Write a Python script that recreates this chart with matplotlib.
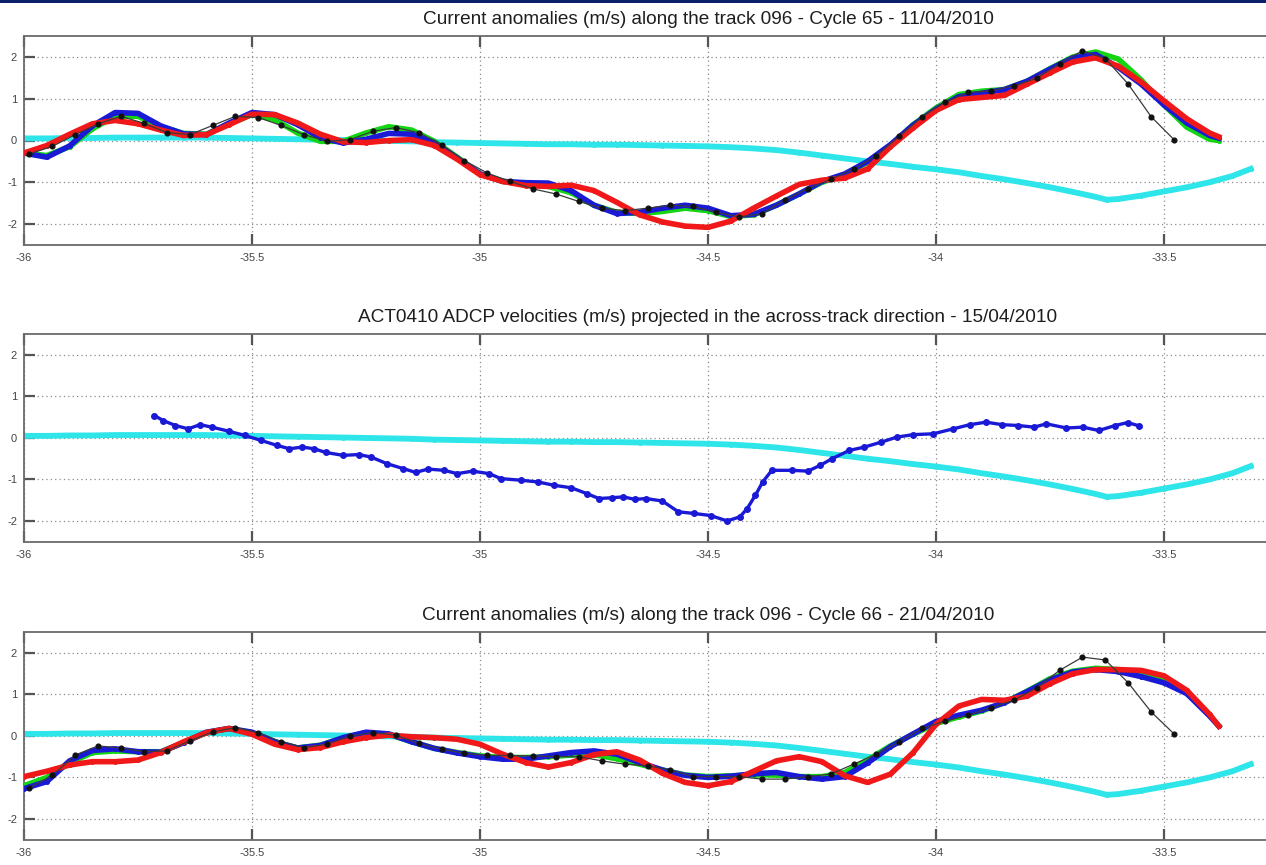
import numpy as np
import matplotlib
matplotlib.use("Agg")
import matplotlib.pyplot as plt
from matplotlib.patches import Rectangle

plt.rcParams["font.family"] = ["Liberation Sans", "DejaVu Sans"]

# ---------------------------------------------------------------- data
# Longitude grid of the gridded altimetry products (deg E)
grid_lon = list(np.round(np.arange(-36.0, -33.39, 0.05), 2)) + [-33.38]

# Cycle 65 - 11/04/2010
c65_blue = [-0.30, -0.40, -0.13, 0.35, 0.67, 0.65, 0.35, 0.16, 0.14, 0.42,
            0.67, 0.62, 0.38, 0.07, -0.06, 0.03, 0.17, 0.15, -0.05, -0.42,
            -0.80, -0.98, -1.01, -1.02, -1.20, -1.55, -1.75, -1.72, -1.62, -1.55,
            -1.62, -1.80, -1.77, -1.55, -1.28, -0.98, -0.80, -0.50, -0.10, 0.37,
            0.75, 1.05, 1.13, 1.22, 1.42, 1.71, 1.98, 2.06, 1.75, 1.35,
            0.85, 0.42, 0.12, 0.06]
c65_red = [-0.30, -0.12, 0.15, 0.40, 0.48, 0.40, 0.25, 0.12, 0.14, 0.38,
           0.63, 0.62, 0.42, 0.15, -0.03, -0.05, 0.00, 0.02, -0.12, -0.45,
           -0.82, -0.98, -1.08, -1.10, -1.07, -1.20, -1.48, -1.78, -1.95, -2.05,
           -2.08, -1.93, -1.62, -1.33, -1.05, -0.95, -0.90, -0.68, -0.15, 0.30,
           0.72, 0.98, 1.03, 1.08, 1.35, 1.62, 1.88, 1.98, 1.78, 1.40,
           0.95, 0.52, 0.18, 0.09]
c65_green = [-0.30, -0.36, -0.15, 0.28, 0.58, 0.58, 0.33, 0.17, 0.15, 0.40,
             0.62, 0.50, 0.18, -0.02, -0.02, 0.18, 0.33, 0.25, -0.02, -0.40,
             -0.80, -0.98, -1.05, -1.10, -1.25, -1.55, -1.72, -1.75, -1.70, -1.62,
             -1.68, -1.82, -1.78, -1.55, -1.28, -1.00, -0.82, -0.52, -0.12, 0.38,
             0.78, 1.10, 1.18, 1.22, 1.42, 1.72, 2.00, 2.12, 1.95, 1.45,
             0.85, 0.32, 0.03, 0.00]

# Along-track points (1 Hz) for both cycles
track_lon = np.linspace(-35.988, -33.478, 51)
c65_track = [-0.32, -0.14, 0.14, 0.40, 0.58, 0.41, 0.19, 0.14, 0.36, 0.58,
             0.55, 0.36, 0.14, -0.02, 0.02, 0.22, 0.31, 0.19, -0.10, -0.48,
             -0.78, -0.98, -1.16, -1.28, -1.46, -1.62, -1.68, -1.62, -1.55, -1.58,
             -1.72, -1.83, -1.75, -1.43, -1.15, -0.93, -0.69, -0.36, 0.10, 0.57,
             0.92, 1.15, 1.19, 1.31, 1.49, 1.84, 2.15, 1.96, 1.35, 0.57, 0.02]

# Cycle 66 - 21/04/2010
c66_blue = [-1.27, -1.10, -0.60, -0.35, -0.31, -0.38, -0.39, -0.16, 0.09, 0.18,
            0.09, -0.14, -0.29, -0.23, -0.04, 0.09, 0.05, -0.14, -0.30, -0.41,
            -0.50, -0.56, -0.56, -0.48, -0.40, -0.36, -0.44, -0.64, -0.82, -0.95,
            -1.00, -0.97, -0.91, -0.88, -0.98, -1.04, -0.98, -0.65, -0.26, 0.05,
            0.35, 0.50, 0.62, 0.80, 1.07, 1.35, 1.54, 1.60, 1.55, 1.43,
            1.28, 1.02, 0.48, 0.24]
c66_red = [-0.98, -0.85, -0.70, -0.62, -0.62, -0.58, -0.40, -0.14, 0.08, 0.18,
           0.04, -0.20, -0.33, -0.28, -0.14, -0.04, 0.02, -0.02, -0.04, -0.08,
           -0.20, -0.44, -0.64, -0.75, -0.64, -0.45, -0.38, -0.58, -0.90, -1.12,
           -1.20, -1.10, -0.85, -0.60, -0.50, -0.62, -0.96, -1.12, -0.92, -0.40,
           0.28, 0.72, 0.88, 0.86, 0.96, 1.26, 1.50, 1.60, 1.60, 1.58,
           1.45, 1.10, 0.52, 0.24]
c66_green = [-1.20, -1.00, -0.65, -0.40, -0.36, -0.38, -0.38, -0.16, 0.08, 0.18,
             0.08, -0.14, -0.29, -0.22, -0.05, 0.08, 0.04, -0.14, -0.30, -0.40,
             -0.48, -0.52, -0.52, -0.50, -0.46, -0.45, -0.55, -0.68, -0.82, -0.94,
             -0.98, -0.96, -0.94, -0.94, -0.98, -0.98, -0.88, -0.58, -0.24, 0.04,
             0.30, 0.46, 0.60, 0.80, 1.08, 1.38, 1.56, 1.63, 1.60, 1.50,
             1.36, 1.06, 0.50, 0.24]
c66_track = [-1.25, -0.95, -0.46, -0.24, -0.29, -0.38, -0.36, -0.12, 0.10, 0.20,
             0.08, -0.14, -0.28, -0.20, 0.00, 0.08, 0.02, -0.18, -0.32, -0.42,
             -0.47, -0.47, -0.48, -0.50, -0.50, -0.60, -0.68, -0.72, -0.82, -0.98,
             -0.98, -0.98, -1.04, -1.04, -0.98, -0.92, -0.68, -0.44, -0.14, 0.18,
             0.36, 0.50, 0.68, 0.86, 1.16, 1.58, 1.90, 1.83, 1.28, 0.58, 0.05]

# Mean current reference profile (same in all panels)
mean_lon = [-36.00, -35.95, -35.90, -35.85, -35.80, -35.75, -35.70, -35.65, -35.60,
            -35.55, -35.50, -35.45, -35.40, -35.35, -35.30, -35.25, -35.20, -35.15,
            -35.10, -35.05, -35.00, -34.95, -34.90, -34.85, -34.80, -34.75, -34.70,
            -34.65, -34.60, -34.55, -34.50, -34.45, -34.40, -34.35, -34.30, -34.25,
            -34.20, -34.15, -34.10, -34.05, -34.00, -33.95, -33.90, -33.85, -33.80,
            -33.75, -33.70, -33.65, -33.625, -33.60, -33.55, -33.50, -33.45, -33.40,
            -33.35, -33.31]
mean_vel = [0.05, 0.05, 0.06, 0.06, 0.07, 0.07, 0.07, 0.07, 0.07,
            0.06, 0.05, 0.04, 0.03, 0.02, 0.01, 0.00, -0.01, -0.02,
            -0.04, -0.05, -0.06, -0.07, -0.08, -0.09, -0.09, -0.10, -0.10,
            -0.11, -0.12, -0.13, -0.14, -0.16, -0.19, -0.23, -0.29, -0.36,
            -0.43, -0.50, -0.56, -0.63, -0.69, -0.76, -0.85, -0.93, -1.02,
            -1.12, -1.23, -1.35, -1.42, -1.40, -1.32, -1.22, -1.12, -1.00,
            -0.85, -0.68]

# ACT0410 ADCP across-track velocities - 15/04/2010
adcp_lon = [-35.714, -35.695, -35.668, -35.640, -35.614, -35.588, -35.550, -35.516,
            -35.480, -35.445, -35.418, -35.390, -35.364, -35.338, -35.300, -35.266,
            -35.239, -35.204, -35.168, -35.141, -35.114, -35.079, -35.050, -35.016,
            -34.980, -34.954, -34.909, -34.873, -34.838, -34.800, -34.766, -34.739,
            -34.710, -34.686, -34.660, -34.636, -34.600, -34.565, -34.530, -34.494,
            -34.458, -34.430, -34.414, -34.396, -34.380, -34.360, -34.316, -34.281,
            -34.254, -34.228, -34.190, -34.157, -34.120, -34.086, -34.050, -34.006,
            -33.962, -33.926, -33.890, -33.855, -33.820, -33.785, -33.758, -33.714,
            -33.678, -33.643, -33.607, -33.580, -33.554]
adcp_vel = [0.54, 0.42, 0.30, 0.22, 0.32, 0.26, 0.16, 0.06,
            -0.06, -0.18, -0.26, -0.22, -0.26, -0.35, -0.42, -0.40,
            -0.46, -0.62, -0.74, -0.83, -0.75, -0.78, -0.86, -0.80,
            -0.86, -0.98, -1.02, -1.06, -1.14, -1.20, -1.34, -1.46,
            -1.44, -1.42, -1.48, -1.46, -1.52, -1.78, -1.82, -1.87,
            -2.00, -1.90, -1.70, -1.38, -1.06, -0.78, -0.78, -0.80,
            -0.66, -0.50, -0.30, -0.22, -0.10, 0.02, 0.08, 0.10,
            0.22, 0.32, 0.38, 0.32, 0.30, 0.26, 0.34, 0.24,
            0.26, 0.18, 0.30, 0.37, 0.29]

titles = [
    "Current anomalies (m/s) along the track 096 - Cycle 65 - 11/04/2010",
    "ACT0410 ADCP velocities (m/s) projected in the across-track direction - 15/04/2010",
    "Current anomalies (m/s) along the track 096 - Cycle 66 - 21/04/2010",
]
xticks = [-36, -35.5, -35, -34.5, -34, -33.5]
xticklabels = ["-36", "-35.5", "-35", "-34.5", "-34", "-33.5"]
yticks = [-2, -1, 0, 1, 2]
yticklabels = ["-2", "-1", "0", "1", "2"]

# ---------------------------------------------------------------- style
CYAN = "#2ee6ea"
BLUE = "#1a1ad6"
RED = "#f01818"
GREEN = "#14d414"

W, H = 1266, 865
fig = plt.figure(figsize=(W / 100, H / 100), dpi=100)
fig.patch.set_facecolor("white")

# axes boxes in pixels: (left, top, width, height); the x range -36..-33 runs past the right edge
boxes = [(24, 36.1, 1368, 208.8), (24, 334.2, 1368, 207.5), (24, 632.2, 1368, 207.5)]
axs = []
for (l, t, w, h) in boxes:
    axs.append(fig.add_axes([l / W, 1 - (t + h) / H, w / W, h / H]))


def style(ax, title):
    ax.set_xlim(-36, -33)
    ax.set_ylim(-2.5, 2.5)
    ax.set_xticks(xticks)
    ax.set_xticklabels(xticklabels)
    ax.set_yticks(yticks)
    ax.set_yticklabels(yticklabels)
    ax.grid(True, linestyle=(0, (1, 2.5)), color="#8a8a8a", linewidth=0.9)
    ax.set_axisbelow(True)
    ax.tick_params(direction="in", length=8, width=1.6, color="#555555",
                   top=True, right=True, labelsize=8, labelcolor="#444444")
    ax.tick_params(axis="x", pad=6)
    ax.tick_params(axis="y", pad=5)
    for s in ax.spines.values():
        s.set_color("#6a6a6a")
        s.set_linewidth(1.3)
    ax.set_title(title, fontsize=13.7, color="#1e1e1e", pad=8.5)


def altimetry(ax, green, blue, red, track):
    ax.plot(mean_lon, mean_vel, color=CYAN, lw=4.2, marker=".", ms=5, zorder=2)
    ax.plot(grid_lon, green, color=GREEN, lw=4, marker=".", ms=5, zorder=3)
    ax.plot(grid_lon, blue, color=BLUE, lw=4, marker=".", ms=5, zorder=4)
    ax.plot(grid_lon, red, color=RED, lw=4, marker=".", ms=5, zorder=5)
    ax.plot(track_lon, track, color="#3a3a3a", lw=0.9, marker="o", ms=3.4,
            mfc="#111111", mec="#111111", zorder=6)


altimetry(axs[0], c65_green, c65_blue, c65_red, c65_track)
style(axs[0], titles[0])

axs[1].plot(mean_lon, mean_vel, color=CYAN, lw=4.2, marker=".", ms=5, zorder=2)
axs[1].plot(adcp_lon, adcp_vel, color=BLUE, lw=2.4, marker="o", ms=4, zorder=4)
style(axs[1], titles[1])

altimetry(axs[2], c66_green, c66_blue, c66_red, c66_track)
style(axs[2], titles[2])

# dark band along the top edge
fig.patches.append(Rectangle((0, 1 - 2.5 / H), 1, 2.5 / H, transform=fig.transFigure,
                             facecolor="#0b1f6b", edgecolor="none", zorder=10))

fig.savefig("out.png", dpi=100)
